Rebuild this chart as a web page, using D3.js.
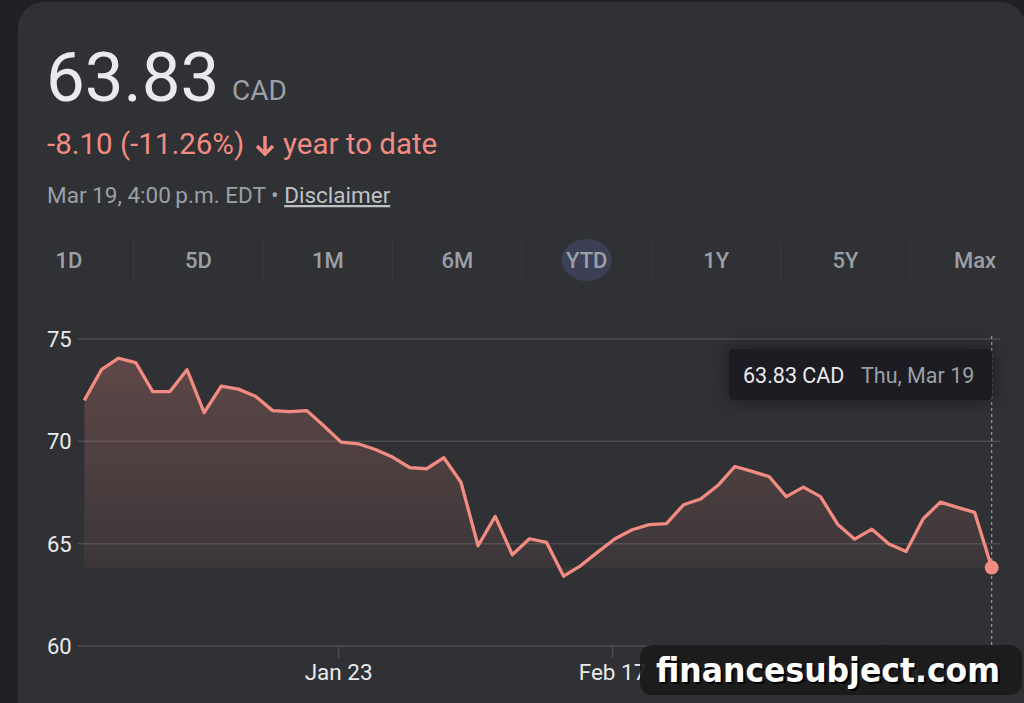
<!DOCTYPE html>
<html>
<head>
<meta charset="utf-8">
<script src="https://cdn.jsdelivr.net/npm/d3@7"></script>
<style>
  body { margin: 0; background: #202124; }
  svg { display: block; font-family: Roboto, "Noto Sans", sans-serif; }
</style>
</head>
<body>
<svg id="chart" width="1024" height="703"></svg>
<script>
// Trading days, year to date
var dates = [
  "Jan 2", "Jan 5", "Jan 6", "Jan 7", "Jan 8", "Jan 9", "Jan 12", "Jan 13", "Jan 14", "Jan 15",
  "Jan 16", "Jan 19", "Jan 20", "Jan 21", "Jan 22", "Jan 23", "Jan 26", "Jan 27", "Jan 28", "Jan 29",
  "Jan 30", "Feb 2", "Feb 3", "Feb 4", "Feb 5", "Feb 6", "Feb 9", "Feb 10", "Feb 11", "Feb 12",
  "Feb 13", "Feb 17", "Feb 18", "Feb 19", "Feb 20", "Feb 23", "Feb 24", "Feb 25", "Feb 26", "Feb 27",
  "Mar 2", "Mar 3", "Mar 4", "Mar 5", "Mar 6", "Mar 9", "Mar 10", "Mar 11", "Mar 12", "Mar 13",
  "Mar 16", "Mar 17", "Mar 18", "Mar 19"
];

// Closing prices (CAD)
var closes = [
  72.0, 73.5, 74.06, 73.85, 72.43, 72.43, 73.5, 71.4, 72.7, 72.55,
  72.2, 71.5, 71.45, 71.5, 70.75, 69.96, 69.88, 69.6, 69.23, 68.72,
  68.66, 69.2, 68.0, 64.9, 66.33, 64.46, 65.24, 65.06, 63.41, 63.93,
  64.6, 65.24, 65.68, 65.93, 65.98, 66.9, 67.18, 67.84, 68.77, 68.53,
  68.28, 67.3, 67.76, 67.3, 65.95, 65.22, 65.71, 64.98, 64.62, 66.22,
  67.03, 66.77, 66.53, 63.83
];

var yTicks = [60, 65, 70, 75];
var xTicks = ["Jan 23", "Feb 17", "Mar 11"];
var ranges = ["1D", "5D", "1M", "6M", "YTD", "1Y", "5Y", "Max"];

var lineColor = "#f28b82";
var svg = d3.select("#chart");

// Card background
svg.append("rect")
    .attr("x", 18).attr("y", 2)
    .attr("width", 1008).attr("height", 740)
    .attr("rx", 26)
    .attr("fill", "#303134");

// Header texts
svg.append("text")
    .attr("x", 46).attr("y", 101)
    .attr("font-size", 69)
    .attr("fill", "#e8eaed")
    .text("63.83");
svg.append("text")
    .attr("x", 232).attr("y", 100)
    .attr("font-size", 28)
    .attr("fill", "#9aa0a6")
    .text("CAD");

svg.append("text")
    .attr("x", 47).attr("y", 154)
    .attr("font-size", 29.5)
    .attr("fill", lineColor)
    .text("-8.10 (-11.26%)");
// down arrow
svg.append("path")
    .attr("d", "M265,136 L265,151 M257,146 L265,154 L273,146")
    .attr("fill", "none")
    .attr("stroke", lineColor)
    .attr("stroke-width", 3.5)
    .attr("stroke-linejoin", "miter");
svg.append("text")
    .attr("x", 283).attr("y", 154)
    .attr("font-size", 29.5)
    .attr("fill", lineColor)
    .text("year to date");

var stamp = svg.append("text")
    .attr("x", 47).attr("y", 203)
    .attr("font-size", 22.5)
    .attr("fill", "#9aa0a6");
stamp.append("tspan").text("Mar 19, 4:00\u2009p.m. EDT \u2022 ");
stamp.append("tspan").attr("text-decoration", "underline").attr("fill", "#bdc1c6").text("Disclaimer");

// Range selector
var tabX = d3.scalePoint().domain(ranges).range([69, 975]);
svg.append("ellipse")
    .attr("cx", tabX("YTD")).attr("cy", 260)
    .attr("rx", 25).attr("ry", 21)
    .attr("fill", "#3b4056");
svg.selectAll(".sep")
    .data(ranges.slice(1))
    .enter().append("line")
    .attr("class", "sep")
    .attr("x1", function(d) { return tabX(d) - tabX.step() / 2; })
    .attr("x2", function(d) { return tabX(d) - tabX.step() / 2; })
    .attr("y1", 241).attr("y2", 281)
    .attr("stroke", "#3a3b3f");
svg.selectAll(".tab")
    .data(ranges)
    .enter().append("text")
    .attr("class", "tab")
    .attr("x", function(d) { return tabX(d); })
    .attr("y", 268)
    .attr("text-anchor", "middle")
    .attr("font-size", 22)
    .attr("font-weight", 500)
    .attr("fill", "#9aa0a6")
    .text(function(d) { return d; });

// Scales
var x = d3.scalePoint().domain(dates).range([84.3, 991.7]);
var y = d3.scaleLinear().domain([60, 75]).range([646, 339]);

// Gridlines and y labels
svg.selectAll(".grid")
    .data(yTicks)
    .enter().append("line")
    .attr("x1", 78).attr("x2", 1000)
    .attr("y1", function(d) { return y(d); })
    .attr("y2", function(d) { return y(d); })
    .attr("stroke", "#4a4c50")
    .attr("stroke-width", 1.5);
svg.selectAll(".ylab")
    .data(yTicks)
    .enter().append("text")
    .attr("x", 47)
    .attr("y", function(d) { return y(d) + 8; })
    .attr("font-size", 22)
    .attr("fill", "#e8eaed")
    .text(function(d) { return d; });

// X axis
var xAxis = d3.axisBottom(x).tickValues(xTicks).tickSize(12).tickPadding(6);
var gx = svg.append("g")
    .attr("transform", "translate(-3," + y(60) + ")")
    .call(xAxis);
gx.select(".domain").remove();
gx.selectAll(".tick line").attr("stroke", "#4a4c50").attr("stroke-width", 1.5);
gx.selectAll(".tick text")
    .attr("font-size", 22.5)
    .attr("font-family", "Roboto, sans-serif")
    .attr("fill", "#e8eaed");

// Area fill gradient
var defs = svg.append("defs");
var grad = defs.append("linearGradient")
    .attr("id", "fill")
    .attr("gradientUnits", "userSpaceOnUse")
    .attr("x1", 0).attr("x2", 0)
    .attr("y1", y(74)).attr("y2", y(63.83));
grad.append("stop").attr("offset", 0).attr("stop-color", lineColor).attr("stop-opacity", 0.24);
grad.append("stop").attr("offset", 1).attr("stop-color", lineColor).attr("stop-opacity", 0.06);

var shadow = defs.append("filter").attr("id", "glow")
    .attr("x", -0.3).attr("y", -1).attr("width", 1.6).attr("height", 3);
shadow.append("feDropShadow")
    .attr("dx", 0).attr("dy", 0)
    .attr("stdDeviation", 10)
    .attr("flood-color", "#000")
    .attr("flood-opacity", 0.45);

var base = y(closes[closes.length - 1]);
var area = d3.area()
    .x(function(d, i) { return x(dates[i]); })
    .y0(base)
    .y1(function(d) { return y(d); });
svg.append("path")
    .datum(closes)
    .attr("d", area)
    .attr("fill", "url(#fill)");

var line = d3.line()
    .x(function(d, i) { return x(dates[i]); })
    .y(function(d) { return y(d); });
svg.append("path")
    .datum(closes)
    .attr("d", line)
    .attr("fill", "none")
    .attr("stroke", lineColor)
    .attr("stroke-width", 3.3)
    .attr("stroke-linejoin", "round");

// Hover marker at the last close
var lastX = x(dates[dates.length - 1]);
svg.append("line")
    .attr("x1", lastX).attr("x2", lastX)
    .attr("y1", 336).attr("y2", 646)
    .attr("stroke", "#9aa0a6")
    .attr("stroke-width", 1.2)
    .attr("stroke-dasharray", "3,3");
svg.append("circle")
    .attr("cx", lastX).attr("cy", y(closes[closes.length - 1]))
    .attr("r", 7)
    .attr("fill", lineColor);

// Tooltip
svg.append("rect")
    .attr("x", 729).attr("y", 349)
    .attr("width", 263).attr("height", 51)
    .attr("rx", 4)
    .attr("fill", "#1f1f21")
    .attr("filter", "url(#glow)");
svg.append("text")
    .attr("x", 743).attr("y", 383)
    .attr("font-size", 21.5)
    .attr("fill", "#e8eaed")
    .text("63.83 CAD");
svg.append("text")
    .attr("x", 861).attr("y", 383)
    .attr("font-size", 21.5)
    .attr("fill", "#9aa0a6")
    .text("Thu, " + dates[dates.length - 1]);

// Watermark (slightly see-through, like the original overlay)
svg.append("rect")
    .attr("x", 640).attr("y", 645)
    .attr("width", 382).attr("height", 50)
    .attr("rx", 12)
    .attr("fill", "#1b1b1c")
    .attr("fill-opacity", 0.93);
svg.append("text")
    .attr("x", 658).attr("y", 684)
    .attr("font-family", "DejaVu Sans, sans-serif")
    .attr("font-weight", 700)
    .attr("font-size", 33)
    .attr("textLength", 344)
    .attr("lengthAdjust", "spacingAndGlyphs")
    .attr("fill", "#000")
    .text("financesubject.com");
svg.append("text")
    .attr("x", 656).attr("y", 682)
    .attr("font-family", "DejaVu Sans, sans-serif")
    .attr("font-weight", 700)
    .attr("font-size", 33)
    .attr("textLength", 344)
    .attr("lengthAdjust", "spacingAndGlyphs")
    .attr("fill", "#ffffff")
    .text("financesubject.com");
</script>
</body>
</html>
